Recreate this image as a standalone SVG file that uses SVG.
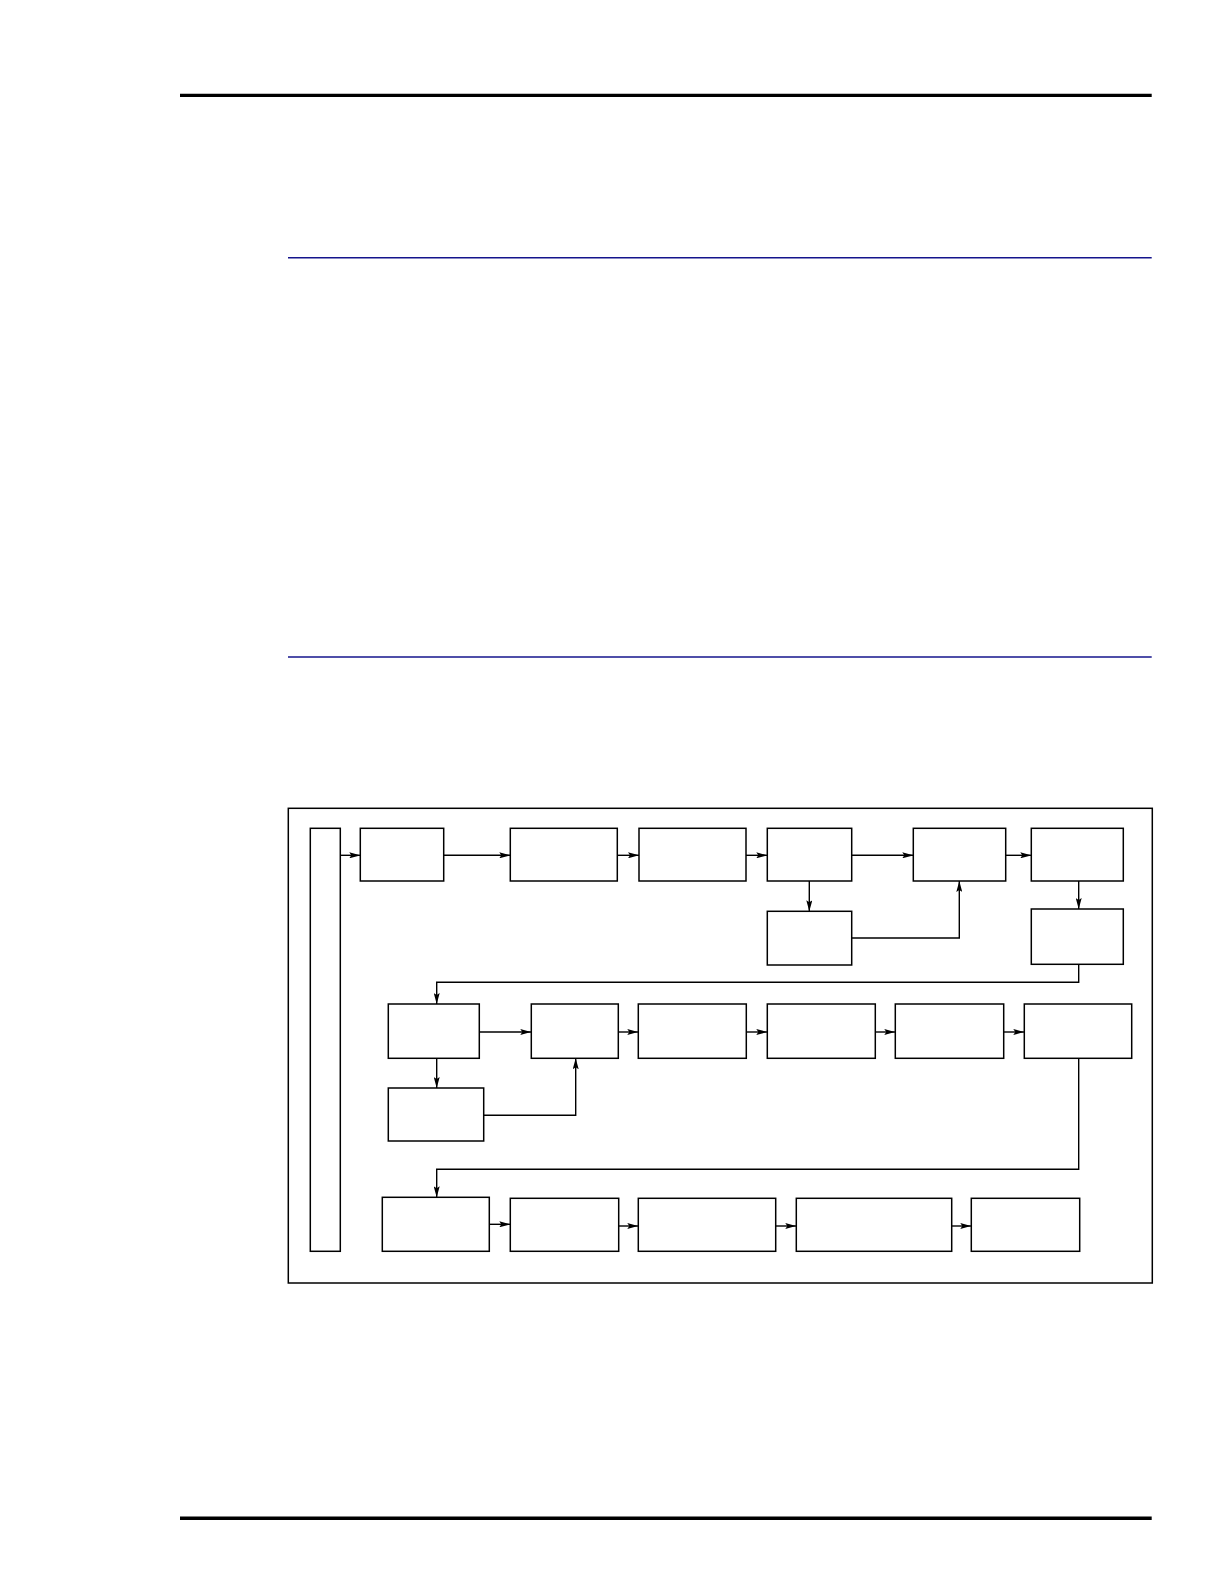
<svg xmlns="http://www.w3.org/2000/svg" width="1222" height="1584" viewBox="0 0 1222 1584">
<defs>
<marker id="ah" markerWidth="11" markerHeight="6" refX="11" refY="3" orient="auto" markerUnits="userSpaceOnUse">
<path d="M0,0 L11,3 L0,6 L2,3 Z" fill="#000"/>
</marker>
<style>
.b{fill:#fff;stroke:#000;stroke-width:1.5}
.c{fill:none;stroke:#000;stroke-width:1.4}
.a{marker-end:url(#ah)}
.rule{stroke:#000;stroke-width:3.2}
.blue{stroke:#14148c;stroke-width:1.4}
</style>
</defs>
<rect width="1222" height="1584" fill="#fff"/>
<line class="rule" x1="180" y1="95.3" x2="1151.7" y2="95.3"/>
<line class="rule" x1="180" y1="1518.3" x2="1151.7" y2="1518.3" style="stroke-width:3.6"/>
<line class="blue" x1="288" y1="257.7" x2="1151.7" y2="257.7"/>
<line class="blue" x1="288" y1="657" x2="1151.7" y2="657"/>
<g id="frame"><rect class="b" x="288.3" y="808.3" width="864" height="474.7"/></g>
<g id="bar"><rect class="b" x="310.3" y="828.3" width="30" height="423"/></g>
<g id="n1"><rect class="b" x="360.3" y="828.3" width="83.4" height="52.7"/></g>
<g id="n2"><rect class="b" x="510.3" y="828.3" width="107" height="52.7"/></g>
<g id="n3"><rect class="b" x="639" y="828.3" width="107" height="52.7"/></g>
<g id="n4"><rect class="b" x="767.3" y="828.3" width="84.4" height="52.7"/></g>
<g id="n4b"><rect class="b" x="767.3" y="911.3" width="84.4" height="53.7"/></g>
<g id="n5"><rect class="b" x="913.3" y="828.3" width="92.4" height="52.7"/></g>
<g id="n6"><rect class="b" x="1031.3" y="828.3" width="92" height="52.7"/></g>
<g id="n6b"><rect class="b" x="1031.3" y="909" width="92" height="55.3"/></g>
<g id="n7"><rect class="b" x="388.3" y="1004" width="91" height="54.3"/></g>
<g id="n7b"><rect class="b" x="388.3" y="1088" width="95.4" height="53"/></g>
<g id="n8"><rect class="b" x="531.3" y="1004" width="87" height="54.3"/></g>
<g id="n9"><rect class="b" x="638.3" y="1004" width="108" height="54.3"/></g>
<g id="n10"><rect class="b" x="767.3" y="1004" width="108" height="54.3"/></g>
<g id="n11"><rect class="b" x="895.3" y="1004" width="108.4" height="54.3"/></g>
<g id="n12"><rect class="b" x="1024.3" y="1004" width="107.4" height="54.3"/></g>
<g id="n13"><rect class="b" x="382.3" y="1197.3" width="107" height="54"/></g>
<g id="n14"><rect class="b" x="510.3" y="1198.3" width="108.4" height="53"/></g>
<g id="n15"><rect class="b" x="638.3" y="1198.3" width="137.4" height="53"/></g>
<g id="n16"><rect class="b" x="796.3" y="1198.3" width="155.4" height="53"/></g>
<g id="n17"><rect class="b" x="971.3" y="1198.3" width="108.4" height="53"/></g>
<g id="connectors">
<line class="c a" x1="340.3" y1="855.3" x2="360.3" y2="855.3"/>
<line class="c a" x1="443.7" y1="855.3" x2="510.3" y2="855.3"/>
<line class="c a" x1="617.3" y1="855.3" x2="639" y2="855.3"/>
<line class="c a" x1="746" y1="855.3" x2="767.3" y2="855.3"/>
<line class="c a" x1="851.7" y1="855.3" x2="913.3" y2="855.3"/>
<line class="c a" x1="1005.7" y1="855.3" x2="1031.3" y2="855.3"/>
<line class="c a" x1="809.3" y1="881" x2="809.3" y2="911.3"/>
<polyline class="c a" points="851.7,938 959.3,938 959.3,881"/>
<line class="c a" x1="1078.7" y1="881" x2="1078.7" y2="909"/>
<polyline class="c a" points="1078.7,964.3 1078.7,982.3 436.7,982.3 436.7,1004"/>
<line class="c a" x1="479.3" y1="1032" x2="531.3" y2="1032"/>
<line class="c a" x1="436.7" y1="1058.3" x2="436.7" y2="1088"/>
<polyline class="c a" points="483.7,1115.3 575.7,1115.3 575.7,1058.3"/>
<line class="c a" x1="618.3" y1="1032" x2="638.3" y2="1032"/>
<line class="c a" x1="746.3" y1="1032" x2="767.3" y2="1032"/>
<line class="c a" x1="875.3" y1="1032" x2="895.3" y2="1032"/>
<line class="c a" x1="1003.7" y1="1032" x2="1024.3" y2="1032"/>
<polyline class="c a" points="1078.7,1058.3 1078.7,1169.3 436.7,1169.3 436.7,1197.3"/>
<line class="c a" x1="489.3" y1="1224.3" x2="510.3" y2="1224.3"/>
<line class="c a" x1="618.7" y1="1226" x2="638.3" y2="1226"/>
<line class="c a" x1="775.7" y1="1226" x2="796.3" y2="1226"/>
<line class="c a" x1="951.7" y1="1226" x2="971.3" y2="1226"/>
</g>
</svg>
